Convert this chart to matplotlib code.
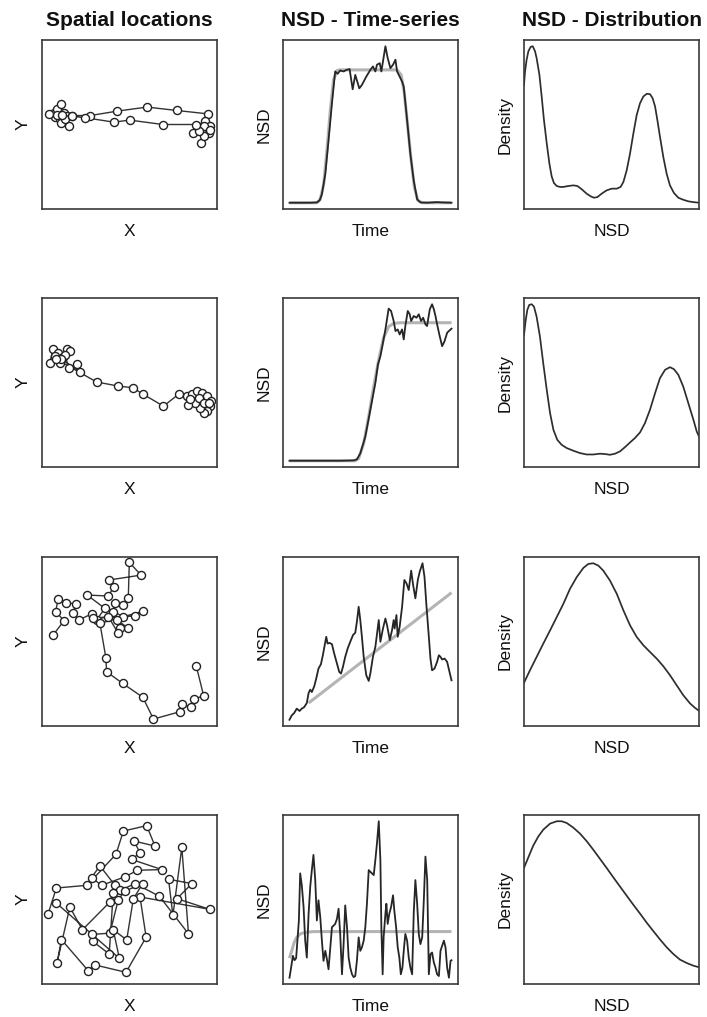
import matplotlib
matplotlib.use("Agg")
import matplotlib.pyplot as plt

plt.rcParams['font.family'] = ['Liberation Sans', 'DejaVu Sans']

col_titles = ["Spatial locations", "NSD - Time-series", "NSD - Distribution"]
col_xlabels = ["X", "Time", "NSD"]
col_ylabels = ["Y", "NSD", "Density"]

# ---------------- Spatial locations ----------------
sp1_x = [6.7, 8.6, 10.9, 7.6, 12.4, 10.1, 14.3, 11.0, 15.2, 13.3, 17.1, 27.6, 42.9, 60.0, 77.1, 94.7,
         93.3, 96.2, 90.5, 94.3, 88.6, 92.4, 95.2, 91.0, 92.4, 86.3, 89.5, 96.2,
         88.2, 69.1, 50.1, 41.0, 24.8, 17.1, 3.8, 8.6, 11.4]
sp1_y = [56.9, 59.3, 62.3, 54.5, 56.9, 53.0, 54.9, 50.6, 49.0, 53.0, 55.3, 55.3, 57.9, 60.3, 58.3, 56.3,
         52.0, 49.4, 48.0, 46.0, 49.0, 49.0, 45.1, 39.1, 43.1, 44.7, 46.0, 47.0,
         50.0, 50.0, 52.6, 51.4, 54.0, 54.9, 56.3, 55.9, 55.9]

sp2_x = [4.4, 6.3, 9.2, 7.3, 10.1, 12.0, 14.0, 15.9, 13.0, 15.5, 20.1, 21.6, 11.1, 8.2,
         31.2, 43.6, 51.8, 57.9, 69.4, 78.0,
         82.8, 85.7, 88.5, 91.4, 94.3, 96.6, 95.8, 94.3, 92.7, 90.4, 87.6, 83.7, 84.7, 89.5, 92.4, 95.2]
sp2_y = [61.4, 69.7, 67.7, 65.7, 61.8, 64.8, 69.7, 68.7, 66.1, 58.8, 61.2, 56.2, 63.8, 63.8,
         50.3, 47.9, 46.9, 43.0, 36.0, 43.0,
         42.0, 43.0, 45.0, 44.0, 42.0, 39.0, 36.0, 33.1, 31.7, 35.0, 38.0, 36.4, 40.0, 41.0, 38.0, 37.6]

sp3_x = [6.3, 12.6, 7.8, 9.2, 13.6, 19.3, 17.8, 21.0, 28.3, 31.2, 35.9, 25.8, 37.9, 41.1, 38.4,
         56.6, 49.9, 49.3, 46.5, 41.7, 40.7, 46.5, 43.0, 49.3, 44.6, 43.6, 37.9, 29.3, 53.2, 57.9,
         33.1, 36.5, 36.9, 46.1, 57.6, 63.7, 79.0, 79.9, 85.1, 86.6, 92.4, 88.1]
sp3_y = [53.8, 62.3, 67.7, 75.1, 73.0, 72.2, 66.7, 62.7, 66.3, 62.7, 69.6, 77.5, 76.9, 82.4, 86.4,
         89.3, 96.8, 75.5, 71.6, 72.6, 67.7, 64.7, 62.7, 57.8, 57.8, 54.8, 64.7, 63.7, 65.1, 68.0,
         60.7, 40.4, 32.1, 25.2, 17.0, 4.1, 8.5, 13.0, 11.0, 16.0, 17.8, 35.7]

sp4_x = [3.4, 8.2, 25.8, 42.3, 46.5, 59.8, 64.6, 52.6, 56.0, 51.2, 68.5, 54.5, 47.4, 34.0, 28.3,
         33.1, 41.7, 38.8, 23.1, 15.9, 8.6, 11.1, 26.4, 30.2, 48.0, 59.5, 56.0, 95.8, 77.1, 85.7,
         72.3, 74.8, 79.9, 83.7, 67.1, 53.2, 44.6, 40.7, 38.4, 28.9, 28.3, 38.8, 43.6, 47.4, 57.6,
         52.2, 48.4, 40.7, 44.2, 8.2]
sp4_y = [41.2, 56.8, 58.4, 76.8, 90.5, 93.7, 81.6, 84.6, 77.6, 73.7, 67.7, 67.3, 63.4, 58.4, 63.0,
         69.9, 58.4, 48.5, 32.1, 45.5, 12.5, 26.3, 7.9, 11.3, 6.9, 27.7, 51.5, 44.2, 50.5, 59.4,
         62.0, 40.6, 80.8, 29.7, 51.9, 59.4, 55.4, 53.9, 17.8, 25.3, 29.3, 30.1, 49.9, 55.0, 59.4,
         50.5, 26.1, 32.1, 15.2, 47.9]

# ---------------- NSD time series (observed) ----------------
ts1_t = [0, 6.6, 12.8, 16.9, 18.6, 20.0, 22.1, 24.1, 26.2, 28.2, 29.7, 31.3, 33.4, 35.1, 37.1, 39.0,
         40.6, 43.1, 44.7, 47.4, 49.9, 51.5, 53.0, 54.0, 55.7, 56.7, 57.7, 59.2, 60.6, 62.3, 63.9,
         65.4, 66.4, 68.0, 69.5, 70.5, 72.6, 74.6, 76.7, 78.8, 80.8, 84.9, 91.1, 94.2, 100]
ts1_nsd = [0, 0, 0, 0.2, 1.5, 5.4, 18.3, 39.8, 63.4, 83.9, 82.4, 84.5, 83.9, 84.9, 85.4, 72.5,
           81.7, 73.1, 75.3, 80.6, 84.9, 87.1, 83.9, 88.2, 89.2, 83.9, 90.3, 100, 92.5, 86.0, 88.2,
           91.4, 83.9, 80.6, 77.4, 74.2, 52.7, 31.2, 14.0, 2.2, 0.2, 0, 0.4, 0.2, 0]

ts2_t = [0, 10.7, 21.0, 31.3, 39.6, 41.6, 43.7, 46.8, 49.9, 53.0, 54.6, 56.1, 57.7, 59.2, 61.2,
         62.7, 64.3, 65.4, 66.8, 68.0, 69.5, 70.5, 71.5, 73.0, 74.2, 75.1, 76.7, 78.4, 79.8, 81.2,
         82.5, 83.9, 84.9, 86.6, 88.0, 89.1, 90.1, 91.1, 92.6, 94.2, 95.7, 97.3, 99.0, 100]
ts2_nsd = [0, 0, 0, 0, 0.2, 0.9, 4.7, 15.4, 32.5, 49.7, 61.5, 66.8, 75.4, 83.9, 97.2,
           95.7, 89.3, 82.9, 83.9, 80.7, 83.9, 77.5, 86.1, 95.7, 93.6, 89.3, 92.5, 91.4, 93.6, 89.3,
           91.4, 87.2, 86.1, 96.8, 100, 96.8, 92.5, 87.2, 80.1, 73.2, 76.4, 81.8, 83.5, 84.4]

ts3_t = [0, 1.4, 2.9, 4.5, 6.2, 7.6, 9.1, 10.7, 11.8, 12.8, 13.8, 15.3, 16.5, 17.9, 19.4, 20.6,
         22.1, 22.7, 23.5, 24.7, 26.2, 27.6, 29.3, 30.7, 31.8, 33.0, 34.4, 35.9, 37.5, 39.2, 40.6,
         41.6, 42.7, 43.7, 44.7, 45.8, 47.4, 48.9, 49.9, 51.5, 53.0, 55.1, 56.1, 57.7, 59.2, 60.2,
         61.9, 63.3, 64.3, 64.9, 66.0, 66.8, 68.0, 69.5, 70.9, 72.2, 73.6, 75.1, 76.3, 77.7, 79.2,
         80.4, 82.1, 83.3, 84.5, 86.0, 87.0, 88.0, 89.5, 91.1, 92.2, 93.2, 94.2, 95.7, 97.3, 99.0, 100]
ts3_nsd = [0, 2.8, 4.3, 7.1, 5.6, 7.1, 8.1, 10.7, 17.1, 19.2, 17.7, 21.4, 26.3, 32.7, 35.5, 41.2,
           49.8, 53.0, 48.7, 49.1, 48.3, 42.3, 35.9, 30.6, 29.5, 33.8, 40.2, 45.5, 49.8, 54.1, 55.6,
           62.6, 72.2, 63.7, 53.0, 40.2, 28.4, 24.8, 29.5, 40.2, 46.6, 63.7, 49.8, 58.3, 64.7, 60.5,
           50.9, 57.3, 63.7, 58.3, 66.9, 53.0, 59.4, 72.2, 89.3, 87.2, 82.9, 95.3, 86.1, 77.6, 89.3,
           94.7, 100, 91.5, 73.3, 53.0, 39.1, 31.6, 32.7, 37.0, 41.2, 40.2, 38.5, 39.1, 37.0, 29.5, 25.2]

ts4_t = [0.0, 1.0, 2.1, 3.1, 4.1, 4.9, 5.8, 6.6, 7.6, 8.7, 9.7, 10.7, 11.8, 12.8, 13.8, 14.8, 15.9,
         16.9, 17.9, 19.0, 20.0, 21.0, 22.1, 23.1, 24.1, 25.2, 26.2, 27.2, 28.2, 29.3, 30.3, 31.3,
         32.4, 33.4, 34.4, 35.5, 36.5, 37.5, 38.6, 39.6, 40.6, 41.6, 42.7, 43.7, 44.7, 45.8, 46.8,
         47.8, 48.9, 49.9, 50.9, 52.0, 53.0, 54.0, 55.1, 56.1, 56.7, 57.5, 58.1, 59.2, 59.8, 60.6,
         61.6, 62.7, 63.9, 64.7, 65.8, 66.8, 67.8, 68.7, 69.7, 70.7, 71.5, 72.6, 73.6, 74.6, 75.7,
         76.7, 77.7, 78.8, 79.8, 80.8, 81.9, 82.9, 83.9, 85.0, 86.0, 87.0, 88.0, 89.1, 90.1, 91.1,
         92.2, 93.2, 94.2, 95.3, 96.3, 97.3, 98.4, 99.4, 100]
ts4_nsd = [0.0, 6.5, 14.0, 11.2, 12.5, 23.7, 36.6, 66.7, 59.1, 45.2, 23.7, 12.9, 40.9, 58.1, 68.8,
           78.5, 62.4, 36.6, 49.5, 38.7, 23.7, 10.8, 17.2, 11.8, 5.4, 19.4, 32.3, 33.3, 34.4, 37.6,
           44.1, 28.0, 2.2, 21.5, 46.2, 32.3, 12.9, 6.5, 2.2, 0.4, 1.1, 10.8, 25.8, 17.2, 19.4, 23.7,
           32.3, 47.3, 68.8, 67.7, 66.7, 65.6, 75.3, 86.0, 100.0, 75.3, 32.3, 2.2, 25.8, 40.9, 47.3,
           34.4, 40.9, 45.2, 52.7, 43.0, 32.3, 19.4, 12.9, 2.2, 6.5, 19.4, 28.0, 23.7, 12.9, 6.5, 2.2,
           41.9, 62.4, 47.3, 28.0, 21.5, 25.8, 49.5, 77.4, 62.4, 2.2, 15.1, 16.1, 9.7, 6.5, 2.2, 1.1,
           17.2, 20.4, 23.7, 19.4, 6.5, 0.0, 10.8, 11.2]

# ---------------- NSD time series (fitted model, grey) ----------------
fit1_t = [0, 16.9, 19.0, 21.1, 23.1, 25.2, 27.2, 29.3, 31.3, 66.4, 68.9, 70.9, 73.0, 75.1, 77.1, 79.2, 81.9, 100]
fit1_nsd = [0, 0, 2.2, 11.8, 33.3, 59.1, 78.5, 84.5, 84.9, 84.9, 81.7, 69.9, 48.4, 26.9, 9.7, 1.5, 0, 0]

fit2_t = [0, 40.6, 42.7, 45.8, 48.9, 52.0, 55.1, 58.1, 61.2, 64.3, 68.5, 100]
fit2_nsd = [0, 0, 1.5, 11.1, 28.3, 47.5, 64.7, 78.6, 85.7, 87.8, 88.2, 88.2]

fit3_t = [11.8, 100]
fit3_nsd = [10.7, 81.2]

fit4_t = [0, 1.4, 2.9, 4.5, 6.6, 9.7, 14.8, 100]
fit4_nsd = [12.5, 17.2, 22.6, 25.8, 28.0, 29.0, 29.5, 29.5]

# ---------------- NSD density ----------------
den1_x = [0, 0.6, 1.5, 2.5, 3.8, 5.0, 6.3, 7.2, 8.8, 10.1, 11.4, 13.0, 14.5, 15.8, 17.1, 18.7, 20.6,
          22.5, 25.3, 28.2, 30.5, 33.0, 35.8, 38.1, 40.0, 41.9, 44.4, 47.2, 50.1, 53.0, 55.2, 56.8,
          58.7, 60.6, 62.5, 64.4, 66.3, 68.2, 70.1, 72.0, 73.5, 74.9, 76.2, 77.7, 79.6, 81.5, 83.4,
          85.7, 88.2, 91.0, 93.9, 96.8, 100]
den1_y = [75.4, 83.9, 91.4, 96.8, 99.6, 100, 96.8, 92.5, 81.8, 67.9, 52.9, 37.9, 25.1, 16.9, 12.6,
          10.7, 10.1, 10.1, 10.7, 11.1, 10.7, 8.6, 5.8, 4.1, 3.2, 3.6, 5.8, 7.9, 9.0, 9.0, 10.1, 13.3,
          20.8, 31.5, 44.3, 56.1, 63.6, 67.9, 69.6, 69.4, 66.8, 61.5, 52.9, 42.2, 29.3, 18.6, 11.1,
          6.2, 3.2, 1.9, 0.9, 0.4, 0]

den2_x = [0, 1.0, 1.9, 3.0, 4.4, 5.7, 7.2, 9.1, 11.0, 13.0, 14.9, 16.8, 19.0, 21.5, 24.4, 28.2,
          32.0, 35.8, 39.6, 43.4, 46.3, 49.1, 52.0, 54.9, 57.7, 60.6, 63.4, 66.3, 69.1, 72.0, 74.9,
          77.7, 80.6, 83.4, 85.7, 88.2, 91.0, 93.9, 96.8, 98.7, 100]
den2_y = [80.4, 90.0, 96.4, 99.6, 100, 98.5, 92.1, 79.4, 62.3, 45.3, 30.4, 19.8, 13.4, 10.2, 8.1,
          6.4, 4.9, 4.0, 4.0, 4.5, 4.3, 3.8, 4.5, 6.0, 8.7, 11.7, 14.5, 18.1, 24.0, 32.6, 43.2, 52.8,
          58.1, 59.8, 58.5, 54.9, 47.4, 36.8, 26.2, 18.7, 15.5]

den3_x = [0, 3.4, 7.2, 11.0, 14.9, 18.7, 22.5, 26.3, 30.1, 33.9, 36.8, 39.6, 42.5, 45.3, 49.1, 53.0,
          56.8, 60.6, 64.4, 68.2, 72.0, 75.8, 79.6, 83.4, 87.2, 91.0, 94.9, 97.7, 100]
den3_y = [23.6, 31.6, 40.1, 48.6, 57.1, 65.6, 74.1, 83.7, 91.1, 97.0, 99.6, 100, 98.5, 95.3, 89.0,
          80.5, 69.9, 60.3, 52.9, 47.6, 43.3, 39.1, 34.2, 28.5, 22.1, 15.7, 10.4, 7.6, 5.7]

den4_x = [0, 2.5, 5.3, 8.2, 11.0, 14.9, 18.7, 21.5, 24.4, 28.2, 32.0, 35.8, 39.6, 43.4, 47.2, 51.0,
          54.9, 58.7, 62.5, 66.3, 70.1, 73.9, 77.7, 81.5, 85.3, 89.1, 93.0, 96.8, 100]
den4_y = [70.2, 77.0, 84.5, 90.3, 94.6, 98.5, 100, 100, 98.9, 95.9, 92.1, 87.3, 81.8, 76.0, 70.2,
          64.2, 58.2, 52.4, 46.6, 41.0, 35.2, 29.8, 24.5, 19.5, 15.2, 11.6, 9.4, 7.7, 6.7]

spatial = [(sp1_x, sp1_y), (sp2_x, sp2_y), (sp3_x, sp3_y), (sp4_x, sp4_y)]
series = [(ts1_t, ts1_nsd, fit1_t, fit1_nsd), (ts2_t, ts2_nsd, fit2_t, fit2_nsd),
          (ts3_t, ts3_nsd, fit3_t, fit3_nsd), (ts4_t, ts4_nsd, fit4_t, fit4_nsd)]
densities = [(den1_x, den1_y), (den2_x, den2_y), (den3_x, den3_y), (den4_x, den4_y)]

# ---------------- Layout ----------------
W, H = 707, 1017
fig = plt.figure(figsize=(W / 100, H / 100), dpi=100)
col_left = [42, 283, 524]
row_top = [40, 298, 557, 815]
pw, ph = 175, 169

def make_ax(r, c):
    ax = fig.add_axes([col_left[c] / W, 1 - (row_top[r] + ph) / H, pw / W, ph / H])
    ax.set_xticks([])
    ax.set_yticks([])
    for s in ax.spines.values():
        s.set_color('#3a3a3a')
        s.set_linewidth(1.2)
    ax.set_xlabel(col_xlabels[c], fontsize=12.5, labelpad=11, color='#111111')
    ax.set_ylabel(col_ylabels[c], fontsize=12.5, labelpad=8, color='#111111')
    if r == 0:
        ax.set_title(col_titles[c], fontsize=15, fontweight='bold', pad=10, color='#111111')
    return ax

for r in range(4):
    # spatial
    ax = make_ax(r, 0)
    x, y = spatial[r]
    ax.plot(x, y, '-', color='#333333', lw=1.0, marker='o', markersize=5.8,
            markerfacecolor='white', markeredgecolor='#222222', markeredgewidth=1.0)
    ax.set_xlim(0, 100)
    ax.set_ylim(0, 100)

    # time series
    ax = make_ax(r, 1)
    t, v, ft, fv = series[r]
    ax.plot(ft, fv, '-', color='#b4b4b4', lw=2.2, zorder=2, solid_capstyle='butt')
    ax.plot(t, v, '-', color='#262626', lw=1.3, zorder=3)
    ax.margins(0.04)

    # density
    ax = make_ax(r, 2)
    dx, dy = densities[r]
    ax.plot(dx, dy, '-', color='#2e2e2e', lw=1.25)
    ax.set_xlim(min(dx), max(dx))
    hi = max(dy)
    ax.set_ylim(-0.04 * hi, 1.04 * hi)

fig.savefig('out.png', dpi=100)
